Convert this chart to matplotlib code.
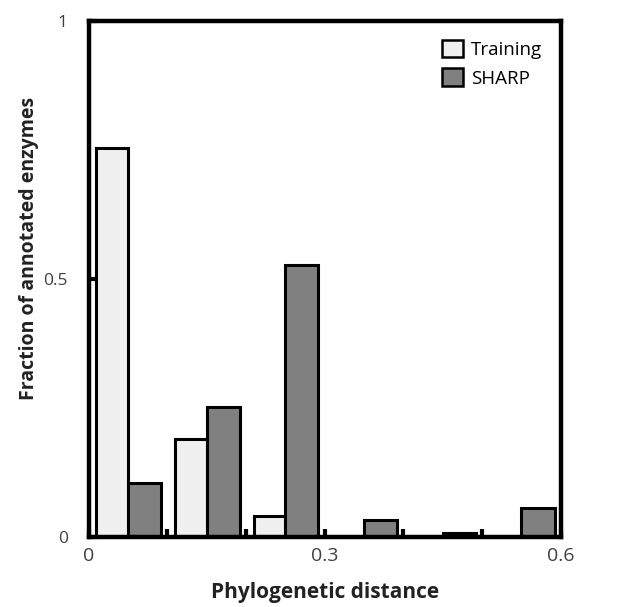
import numpy as np
import matplotlib
matplotlib.use("Agg")
import matplotlib.pyplot as plt
from matplotlib.patches import Patch

plt.rcParams["font.family"] = ["Open Sans", "DejaVu Sans"]

# bins of phylogenetic distance (lower edge), width 0.1
bin_starts = [0.0, 0.1, 0.2, 0.3, 0.4, 0.5]
training = [0.755, 0.19, 0.041, 0.0, 0.0, 0.0]
sharp = [0.105, 0.252, 0.528, 0.033, 0.008, 0.056]

x_ticks = [0.0, 0.1, 0.2, 0.3, 0.4, 0.5, 0.6]
x_ticklabels = ["0", "", "", "0.3", "", "", "0.6"]
y_ticks = [0, 0.5, 1]
y_ticklabels = ["0", "0.5", "1"]

fig = plt.figure(figsize=(6.33, 6.07), dpi=100)
ax = fig.add_axes([0.140, 0.115, 0.746, 0.850])

bw = 0.04
left = np.array(bin_starts)
ax.bar(left + 0.01, training, width=bw, align="edge",
       color="#f0f0f0", edgecolor="black", linewidth=2.2, label="Training")
ax.bar(left + 0.01 + bw, sharp, width=bw + 0.002, align="edge",
       color="#808080", edgecolor="black", linewidth=2.2, label="SHARP")

ax.set_xlim(0, 0.6)
ax.set_ylim(0, 1)
for s in ax.spines.values():
    s.set_linewidth(3.2)

ax.set_xticks(x_ticks)
ax.set_xticklabels(x_ticklabels, fontsize=14, color="#404040")
ax.set_yticks(y_ticks)
ax.set_yticklabels(y_ticklabels, fontsize=12.5, color="#404040")
ax.tick_params(axis="x", direction="in", length=6, width=3, pad=7)
ax.tick_params(axis="y", direction="in", length=6, width=3, pad=15)

ax.set_xlabel("Phylogenetic distance", fontsize=15, fontweight="bold",
              labelpad=12, color="#222222")
ax.set_ylabel("Fraction of annotated enzymes", fontsize=14, fontweight="bold",
              color="#222222")
# label sits a bit above centre in the original
ax.yaxis.set_label_coords(-0.105, 0.56)

handles = [Patch(facecolor="#f0f0f0", edgecolor="black", linewidth=1.8),
           Patch(facecolor="#808080", edgecolor="black", linewidth=1.8)]
ax.legend(handles, ["Training", "SHARP"], loc="upper right", frameon=False,
          fontsize=13.5, handlelength=1.15, handleheight=1.05, handletextpad=0.4,
          borderaxespad=0.6, labelspacing=0.5)

fig.savefig("out.png", dpi=100)
